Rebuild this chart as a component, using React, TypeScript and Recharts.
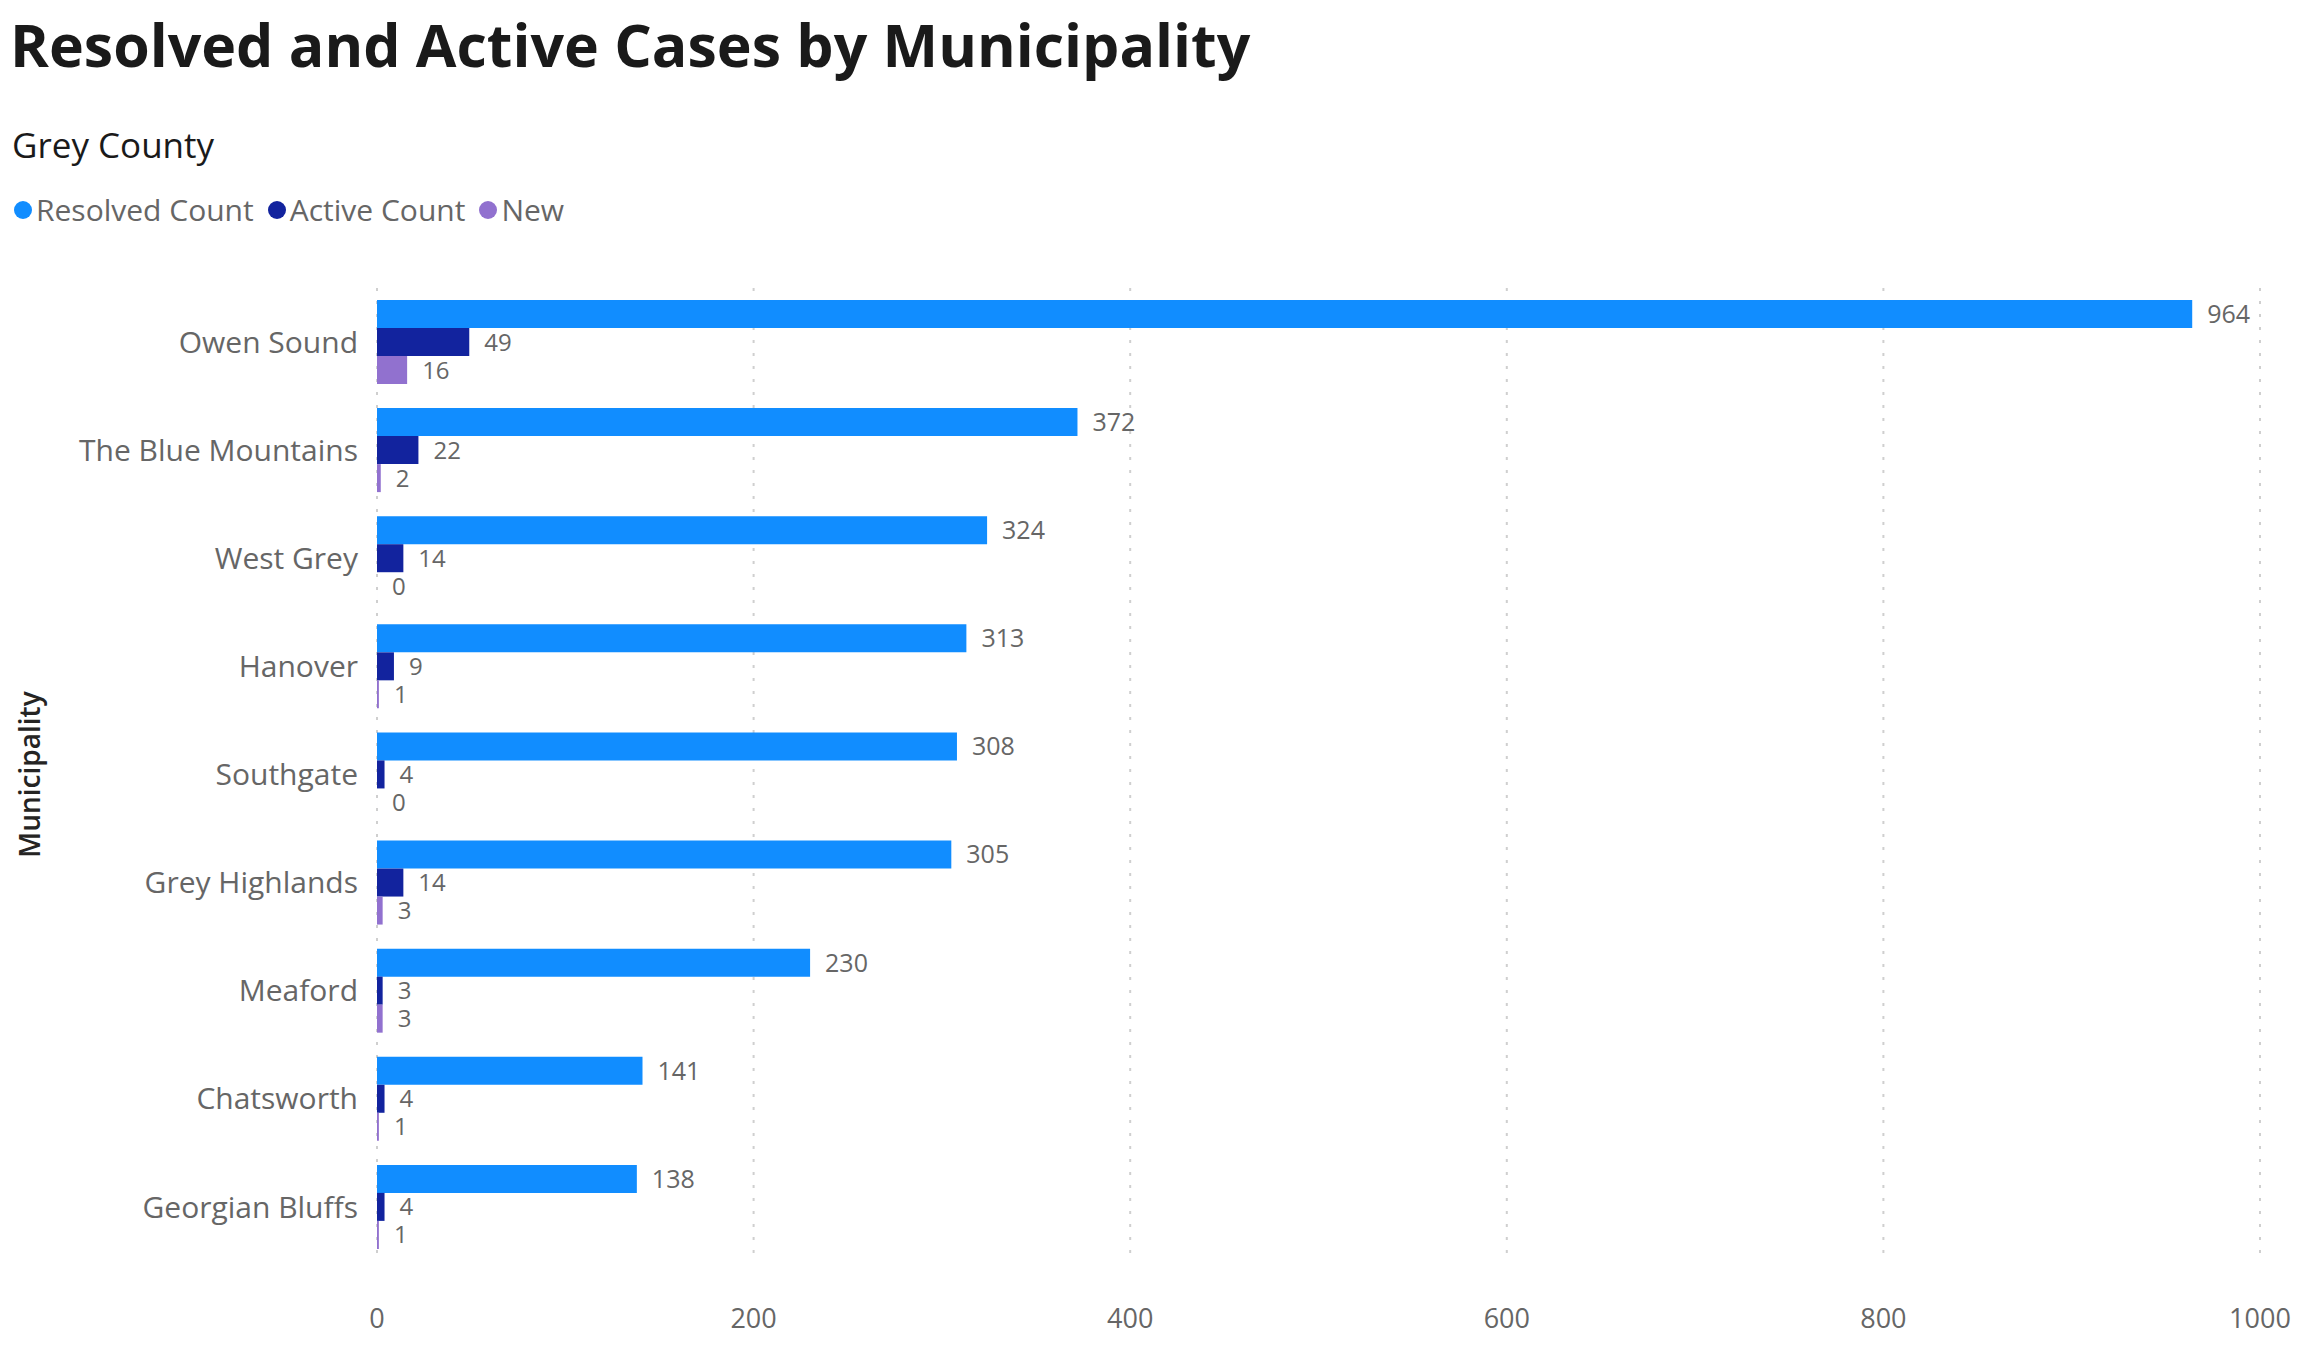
import React from "react";
import { BarChart, Bar, XAxis, YAxis, CartesianGrid, Legend, LabelList, Label } from "recharts";

const categories = ["Owen Sound", "The Blue Mountains", "West Grey", "Hanover", "Southgate", "Grey Highlands", "Meaford", "Chatsworth", "Georgian Bluffs"];
const resolvedCount = [964, 372, 324, 313, 308, 305, 230, 141, 138];
const activeCount = [49, 22, 14, 9, 4, 14, 3, 4, 4];
const newCount = [16, 2, 0, 1, 0, 3, 3, 1, 1];
const xTicks = [0, 200, 400, 600, 800, 1000];
const seriesNames = ["Resolved Count", "Active Count", "New"];

const data = categories.map((name, i) => ({
  name,
  resolved: resolvedCount[i],
  active: activeCount[i],
  newCases: newCount[i],
}));

const FONT = "'Open Sans', 'Noto Sans', sans-serif";
const C_RES = "#118DFF";
const C_ACT = "#12239E";
const C_NEW = "#9171CF";
const seriesColors = [C_RES, C_ACT, C_NEW];
const GRAY = "#666666";

const LegendContent = () => (
  <div style={{ display: "flex", alignItems: "center", fontFamily: FONT, fontSize: 30, color: GRAY, whiteSpace: "nowrap" }}>
    {seriesNames.map((n, i) => (
      <span key={n} style={{ display: "inline-flex", alignItems: "center", marginRight: 14 }}>
        <svg width={18} height={18} style={{ marginRight: 4 }}>
          <circle cx={9} cy={9} r={9} fill={seriesColors[i]} />
        </svg>
        {n}
      </span>
    ))}
  </div>
);

export default function App() {
  return (
    <div style={{ position: "fixed", left: 0, top: 0, width: 2319, height: 1365, background: "#fff", fontFamily: FONT, overflow: "hidden" }}>
      <div style={{ position: "absolute", left: 10, top: 4, fontSize: 59, fontWeight: 700, color: "#1a1a1a", whiteSpace: "nowrap", lineHeight: "80px" }}>
        Resolved and Active Cases by Municipality
      </div>
      <div style={{ position: "absolute", left: 12, top: 120, fontSize: 35, fontWeight: 500, color: "#1a1a1a", whiteSpace: "nowrap", lineHeight: "50px" }}>
        Grey County
      </div>
      <BarChart
        width={2319}
        height={1365}
        data={data}
        layout="vertical"
        margin={{ top: 288, right: 59, bottom: 44, left: 0 }}
        barSize={28}
        barGap={0}
      >
        <CartesianGrid horizontal={false} vertical={true} stroke="#cfcfcf" strokeDasharray="3 10" strokeWidth={2} />
        <XAxis
          type="number"
          domain={[0, 1000]}
          ticks={xTicks}
          axisLine={false}
          tickLine={false}
          tickSize={0}
          tickMargin={48}
          height={60}
          tick={{ fontSize: 27, fill: GRAY, fontFamily: FONT }}
        />
        <YAxis
          type="category"
          dataKey="name"
          width={377}
          axisLine={false}
          tickLine={false}
          tickSize={0}
          tickMargin={19}
          tick={{ fontSize: 30, fill: GRAY, fontFamily: FONT }}
        >
          <Label value="Municipality" angle={-90} position="insideLeft" offset={30} style={{ fontSize: 28, fontWeight: 600, fill: "#252423", fontFamily: FONT, textAnchor: "middle" }} />
        </YAxis>
        <Legend
          verticalAlign="middle"
          align="center"
          layout="horizontal"
          content={<LegendContent />}
          wrapperStyle={{ position: "absolute", top: 189, left: 14, width: "auto", margin: 0 }}
        />
        <Bar dataKey="resolved" name="Resolved Count" fill={C_RES} isAnimationActive={false}>
          <LabelList dataKey="resolved" position="right" offset={15} style={{ fontSize: 25, fill: GRAY, fontFamily: FONT }} />
        </Bar>
        <Bar dataKey="active" name="Active Count" fill={C_ACT} isAnimationActive={false} minPointSize={0.01}>
          <LabelList dataKey="active" position="right" offset={15} style={{ fontSize: 24, fill: GRAY, fontFamily: FONT }} />
        </Bar>
        <Bar dataKey="newCases" name="New" fill={C_NEW} isAnimationActive={false} minPointSize={0.01}>
          <LabelList dataKey="newCases" position="right" offset={15} style={{ fontSize: 24, fill: GRAY, fontFamily: FONT }} />
        </Bar>
      </BarChart>
    </div>
  );
}
